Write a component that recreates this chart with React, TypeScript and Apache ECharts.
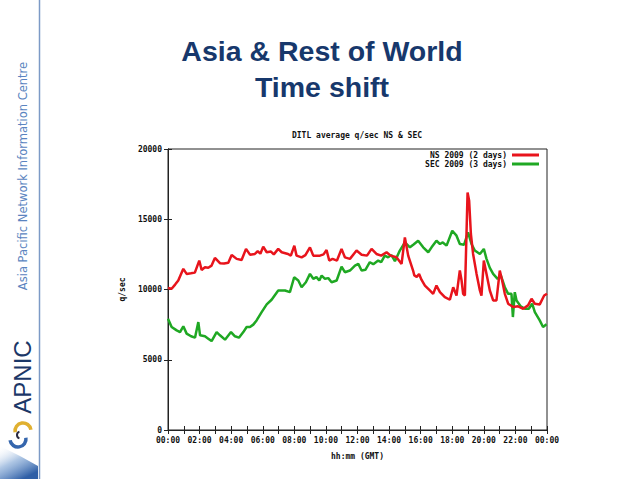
import React, { useEffect, useRef } from "react";
import * as echarts from "echarts";

const nsHours = [0.0, 0.23, 0.45, 0.65, 0.97, 1.18, 1.45, 1.7, 1.98, 2.13, 2.34, 2.55, 2.76, 2.97, 3.29, 3.55, 3.82, 4.03, 4.35, 4.66, 4.94, 5.19, 5.5, 5.68, 5.85, 6.03, 6.25, 6.52, 6.7, 6.98, 7.2, 7.6, 7.78, 8.0, 8.14, 8.46, 8.7, 8.99, 9.2, 9.62, 9.85, 10.04, 10.21, 10.42, 10.7, 10.99, 11.2, 11.52, 11.94, 12.26, 12.6, 12.89, 13.2, 13.5, 13.84, 14.1, 14.47, 14.79, 15.0, 15.21, 15.52, 15.6, 15.75, 15.9, 16.05, 16.27, 16.58, 16.79, 17.0, 17.22, 17.53, 17.85, 18.06, 18.27, 18.48, 18.59, 18.69, 18.8, 18.97, 19.07, 19.18, 19.32, 19.54, 19.75, 19.85, 20.0, 20.17, 20.38, 20.59, 20.8, 21.01, 21.16, 21.33, 21.54, 21.85, 22.17, 22.49, 22.8, 23.02, 23.23, 23.54, 23.82, 24.0];
const nsValues = [10100, 10050, 10350, 10640, 11470, 11110, 11150, 11200, 12060, 11390, 11580, 11550, 11700, 12250, 11870, 11850, 11900, 12460, 12180, 12100, 12890, 12480, 12530, 12720, 12550, 13050, 12650, 12700, 12500, 12890, 12650, 12530, 12410, 13120, 12410, 12290, 12450, 13000, 12410, 12410, 12500, 12810, 12060, 12180, 12060, 12890, 12290, 12180, 12770, 12480, 12410, 12890, 12530, 12410, 12650, 12410, 12290, 11820, 13710, 12410, 11350, 11000, 10900, 11100, 10700, 10280, 9930, 9690, 10280, 9810, 9450, 9270, 10160, 9570, 11350, 10640, 9690, 9570, 16900, 16310, 13950, 12530, 11110, 9930, 9570, 12060, 11110, 9930, 9220, 9220, 11350, 10640, 9690, 8990, 8750, 8800, 8630, 8870, 9340, 8990, 8940, 9570, 9700];

const secHours = [0.0, 0.23, 0.55, 0.76, 0.97, 1.18, 1.46, 1.71, 1.92, 2.03, 2.34, 2.55, 2.76, 3.08, 3.29, 3.61, 3.99, 4.24, 4.49, 4.77, 4.98, 5.19, 5.4, 5.61, 5.93, 6.25, 6.56, 6.98, 7.41, 7.72, 7.99, 8.25, 8.46, 8.73, 8.99, 9.2, 9.4, 9.58, 9.73, 9.94, 10.15, 10.36, 10.68, 10.99, 11.2, 11.52, 11.84, 12.05, 12.26, 12.5, 12.78, 13.0, 13.31, 13.5, 13.73, 13.94, 14.15, 14.37, 14.68, 15.0, 15.32, 15.55, 15.84, 16.16, 16.48, 16.69, 17.0, 17.22, 17.4, 17.64, 18.0, 18.27, 18.48, 18.75, 19.0, 19.22, 19.43, 19.75, 20.0, 20.17, 20.38, 20.59, 20.87, 21.08, 21.33, 21.54, 21.75, 21.84, 21.96, 22.07, 22.34, 22.6, 22.85, 23.06, 23.23, 23.54, 23.75, 23.97];
const secValues = [7920, 7330, 7090, 6970, 7380, 6860, 6670, 6570, 7680, 6740, 6670, 6500, 6330, 6970, 6740, 6430, 6970, 6670, 6570, 6970, 7330, 7330, 7500, 7800, 8390, 8940, 9270, 9930, 9930, 9810, 10870, 10640, 10160, 10520, 11110, 10760, 10880, 10640, 10990, 10760, 10810, 10520, 10640, 11630, 11230, 11350, 11700, 11820, 11350, 11400, 11940, 11800, 12060, 11950, 12410, 12290, 12450, 12010, 12770, 13360, 13000, 13200, 13470, 13000, 12650, 13000, 13470, 13240, 13350, 13120, 14180, 13830, 13240, 13190, 14060, 13240, 12770, 12530, 12890, 12180, 11540, 11110, 10760, 10990, 10160, 9690, 9690, 8040, 9810, 9220, 8800, 8630, 8630, 8990, 8390, 7800, 7330, 7520];

const seriesNames = ["NS 2009 (2 days)", "SEC 2009 (3 days)"];
const yTicks = [0, 5000, 10000, 15000, 20000];

const MONO = "DejaVu Sans Mono";
const monoText = { fontFamily: MONO, fontWeight: "bold" as const, fontSize: 8, color: "#111" };

function hhmm(v: number): string {
  const h = Math.round(v) % 24;
  return (h < 10 ? "0" : "") + h + ":00";
}

export default function App() {
  const ref = useRef<HTMLDivElement>(null);
  useEffect(() => {
    if (!ref.current) return;
    const chart = echarts.init(ref.current, undefined, { renderer: "svg" });
    const axisLine = { show: true, lineStyle: { color: "#222", width: 1 } };
    const axisTick = { show: true, inside: true, length: 4, lineStyle: { color: "#222" } };
    chart.setOption({
      animation: false,
      backgroundColor: "#ffffff",
      title: [
        {
          text: "DITL average q/sec NS & SEC",
          left: 357,
          top: 131,
          textAlign: "center",
          textStyle: { ...monoText },
          padding: 0,
        },
      ],
      grid: { left: 168, right: 93, top: 149, bottom: 49, show: true, borderColor: "#222", borderWidth: 1 },
      legend: [
        {
          data: [seriesNames[0]],
          right: 101,
          top: 151,
          align: "right",
          icon: "rect",
          itemWidth: 27,
          itemHeight: 3,
          padding: 0,
          textStyle: { ...monoText },
        },
        {
          data: [seriesNames[1]],
          right: 101,
          top: 160,
          align: "right",
          icon: "rect",
          itemWidth: 27,
          itemHeight: 3,
          padding: 0,
          textStyle: { ...monoText },
        },
      ],
      xAxis: [
        {
          type: "value",
          min: 0,
          max: 24,
          interval: 1,
          position: "bottom",
          axisLine,
          axisTick,
          splitLine: { show: false },
          axisLabel: {
            ...monoText,
            margin: 6,
            formatter: (v: number) => (Math.round(v) % 2 === 0 ? hhmm(v) : ""),
          },
          name: "hh:mm (GMT)",
          nameLocation: "middle",
          nameGap: 22,
          nameTextStyle: { ...monoText },
        },
        {
          type: "value",
          min: 0,
          max: 24,
          interval: 1,
          position: "top",
          axisLine,
          axisTick,
          splitLine: { show: false },
          axisLabel: { show: false },
        },
      ],
      yAxis: [
        {
          type: "value",
          min: yTicks[0],
          max: yTicks[yTicks.length - 1],
          interval: 5000,
          position: "left",
          axisLine,
          axisTick,
          splitLine: { show: false },
          axisLabel: { ...monoText, margin: 6, formatter: (v: number) => String(v) },
          name: "q/sec",
          nameLocation: "middle",
          nameGap: 42,
          nameTextStyle: { ...monoText },
        },
        {
          type: "value",
          min: yTicks[0],
          max: yTicks[yTicks.length - 1],
          interval: 5000,
          position: "right",
          axisLine,
          axisTick,
          splitLine: { show: false },
          axisLabel: { show: false },
        },
      ],
      series: [
        {
          name: seriesNames[0],
          type: "line",
          xAxisIndex: 0,
          yAxisIndex: 0,
          data: nsHours.map((h, i) => [h, nsValues[i]]),
          showSymbol: false,
          symbol: "none",
          lineStyle: { color: "#e8141c", width: 2.5 },
          itemStyle: { color: "#e8141c" },
          z: 3,
        },
        {
          name: seriesNames[1],
          type: "line",
          xAxisIndex: 0,
          yAxisIndex: 0,
          data: secHours.map((h, i) => [h, secValues[i]]),
          showSymbol: false,
          symbol: "none",
          lineStyle: { color: "#1fa823", width: 2.5 },
          itemStyle: { color: "#1fa823" },
          z: 2,
        },
      ],
      graphic: [
        {
          type: "text",
          x: 322,
          y: 51,
          style: {
            text: "Asia & Rest of World",
            fontFamily: "Liberation Sans",
            fontWeight: "bold",
            fontSize: 28.5,
            fill: "#17386c",
            textAlign: "center",
            textVerticalAlign: "middle",
          },
        },
        {
          type: "text",
          x: 322,
          y: 87,
          style: {
            text: "Time shift",
            fontFamily: "Liberation Sans",
            fontWeight: "bold",
            fontSize: 28.5,
            fill: "#17386c",
            textAlign: "center",
            textVerticalAlign: "middle",
          },
        },
        {
          type: "line",
          shape: { x1: 39.5, y1: 0, x2: 39.5, y2: 479 },
          style: { stroke: "#7c9ac6", lineWidth: 1.5 },
        },
        {
          type: "text",
          x: 23,
          y: 176,
          rotation: Math.PI / 2,
          style: {
            text: "Asia Pacific Network Information Centre",
            fontFamily: "DejaVu Sans",
            fontSize: 11.5,
            fill: "#5a84c0",
            textAlign: "center",
            textVerticalAlign: "middle",
          },
        },
        {
          type: "text",
          x: 22,
          y: 377,
          rotation: Math.PI / 2,
          style: {
            text: "APNIC",
            fontFamily: "Liberation Sans",
            fontSize: 24,
            fill: "#1c3767",
            textAlign: "center",
            textVerticalAlign: "middle",
          },
        },
        {
          type: "arc",
          shape: { cx: 23, cy: 431, r: 8, startAngle: Math.PI * 0.95, endAngle: Math.PI * 1.95 },
          style: { stroke: "#e0b030", lineWidth: 3.5, fill: "none" },
        },
        {
          type: "arc",
          shape: { cx: 18, cy: 439, r: 8, startAngle: Math.PI * -0.05, endAngle: Math.PI * 0.95 },
          style: { stroke: "#3566ad", lineWidth: 3.5, fill: "none" },
        },
        {
          type: "arc",
          shape: { cx: 20.5, cy: 435, r: 3.5, startAngle: Math.PI * 0.6, endAngle: Math.PI * 1.4 },
          style: { stroke: "#2a2a40", lineWidth: 2, fill: "none" },
        },
        {
          type: "polygon",
          shape: { points: [[0, 446], [20, 456], [38, 466], [38, 479], [0, 479]] },
          style: {
            fill: {
              type: "linear",
              x: 0,
              y: 0,
              x2: 0.6,
              y2: 1,
              colorStops: [
                { offset: 0, color: "rgba(255,255,255,0)" },
                { offset: 0.5, color: "rgba(120,160,210,0.6)" },
                { offset: 1, color: "#2f5fa6" },
              ],
            },
          },
        },
      ],
    });
    return () => chart.dispose();
  }, []);
  return (
    <div
      ref={ref}
      style={{ position: "fixed", left: 0, top: 0, width: 640, height: 479 }}
    />
  );
}
